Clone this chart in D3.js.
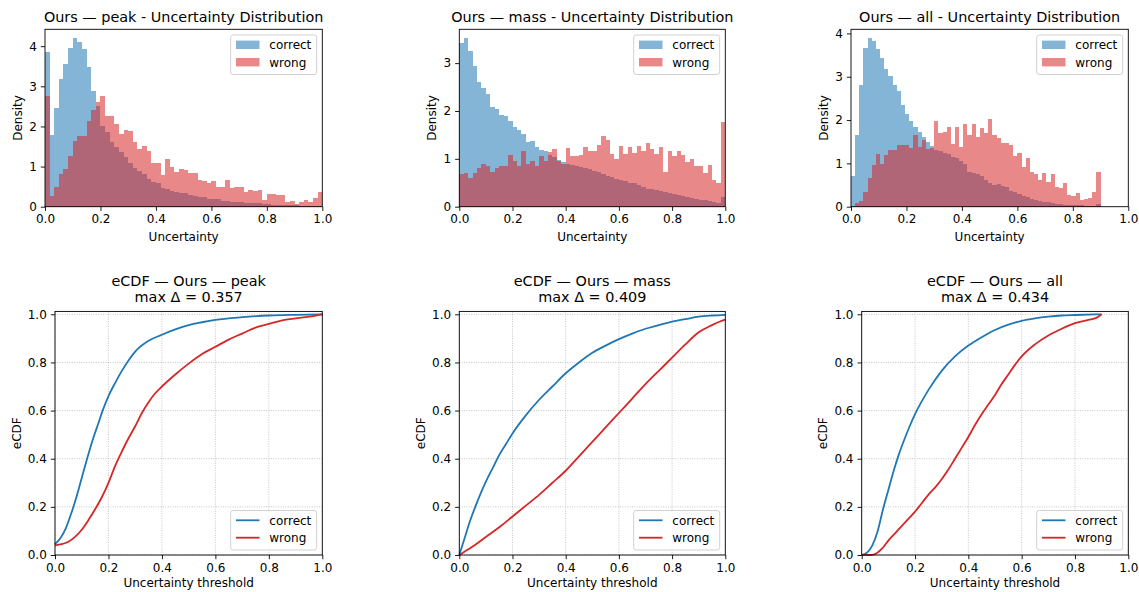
<!DOCTYPE html>
<html>
<head>
<meta charset="utf-8">
<script src="https://cdn.jsdelivr.net/npm/d3@7"></script>
<style>
  body { margin: 0; background: #fff; }
  svg { display: block; font-family: "DejaVu Sans", sans-serif; }
</style>
</head>
<body>
<svg id="fig" width="1139" height="592"></svg>
<script>
// ---- data ----
const seriesNames = ["correct", "wrong"];
const methods = ["peak", "mass", "all"];
const xTickVals = [0, 0.2, 0.4, 0.6, 0.8, 1.0];
const ecdfTickVals = [0, 0.2, 0.4, 0.6, 0.8, 1.0];
const densityTicks = [[0, 1, 2, 3, 4], [0, 1, 2, 3], [0, 1, 2, 3, 4]];
const binRanges = [[0, 1], [0, 1], [0, 0.9]];
const maxDelta = [0.357, 0.409, 0.434];

// density per bin (60 bins each)
const peakCorrect = [3.85, 1.79, 2.47, 3.17, 3.56, 3.96, 4.21, 4.11, 3.94, 3.47, 2.89, 2.52,
  2.0, 1.87, 1.6, 1.5, 1.37, 1.25, 1.1, 0.97, 0.9, 0.82, 0.68, 0.62,
  0.58, 0.47, 0.43, 0.4, 0.37, 0.35, 0.33, 0.3, 0.27, 0.25, 0.23, 0.2,
  0.19, 0.18, 0.15, 0.13, 0.12, 0.12, 0.11, 0.1, 0.09, 0.08, 0.08, 0.07,
  0.06, 0.05, 0.05, 0.05, 0.04, 0.03, 0.03, 0.02, 0.02, 0.02, 0.02, 0.02];
const peakWrong = [2.77, 0.27, 0.5, 0.81, 0.94, 1.27, 1.63, 1.75, 1.75, 2.13, 2.42, 2.62,
  2.75, 2.25, 2.25, 2.05, 1.8, 1.92, 1.88, 1.62, 1.45, 1.52, 1.38, 1.1,
  1.08, 0.78, 1.18, 1.0, 0.87, 0.95, 0.92, 0.85, 0.85, 0.66, 0.64, 0.58,
  0.64, 0.5, 0.5, 0.67, 0.47, 0.48, 0.5, 0.37, 0.42, 0.4, 0.41, 0.17,
  0.32, 0.32, 0.29, 0.28, 0.12, 0.14, 0.07, 0.12, 0.17, 0.12, 0.21, 0.37];
const massCorrect = [3.41, 3.53, 3.26, 2.95, 2.6, 2.48, 2.36, 2.09, 2.04, 1.92, 1.89, 1.79,
  1.67, 1.61, 1.51, 1.35, 1.38, 1.24, 1.19, 1.17, 1.08, 1.04, 0.98, 0.93,
  0.9, 0.87, 0.85, 0.82, 0.8, 0.78, 0.75, 0.73, 0.68, 0.65, 0.62, 0.58,
  0.55, 0.53, 0.5, 0.49, 0.46, 0.42, 0.38, 0.37, 0.35, 0.32, 0.3, 0.28,
  0.26, 0.24, 0.22, 0.2, 0.18, 0.16, 0.14, 0.13, 0.12, 0.1, 0.08, 0.21];
const massWrong = [0.68, 0.7, 0.59, 0.7, 0.8, 0.89, 0.86, 0.73, 0.81, 0.84, 0.84, 1.07,
  0.96, 0.86, 1.16, 0.89, 0.95, 0.86, 1.05, 0.95, 1.15, 1.2, 0.95, 0.9,
  1.22, 1.05, 1.06, 1.08, 1.25, 1.17, 1.17, 1.29, 1.48, 1.39, 1.1, 1.0,
  1.27, 1.1, 1.25, 1.13, 1.27, 1.16, 1.34, 1.2, 1.11, 1.25, 0.73, 1.17,
  1.05, 1.17, 1.08, 0.94, 1.0, 0.84, 0.85, 0.7, 0.87, 0.56, 0.5, 1.78];
const allCorrect = [0.72, 1.65, 2.81, 3.67, 3.9, 3.82, 3.65, 3.44, 3.19, 3.01, 2.81, 2.67,
  2.35, 2.15, 1.97, 1.85, 1.72, 1.6, 1.5, 1.4, 1.32, 1.28, 1.25, 1.22,
  1.15, 1.12, 1.05, 0.98, 0.8, 0.78, 0.75, 0.72, 0.62, 0.55, 0.5, 0.52,
  0.47, 0.45, 0.36, 0.33, 0.3, 0.25, 0.22, 0.18, 0.16, 0.14, 0.12, 0.1,
  0.09, 0.07, 0.06, 0.05, 0.04, 0.04, 0.03, 0.03, 0.02, 0.02, 0.02, 0.07];
const allWrong = [0.0, 0.08, 0.14, 0.35, 0.66, 0.97, 1.22, 0.99, 1.2, 1.3, 1.3, 1.43,
  1.42, 1.42, 1.36, 1.65, 1.38, 1.55, 1.33, 1.35, 1.98, 1.71, 1.73, 1.83,
  1.45, 1.85, 1.38, 1.92, 1.65, 1.92, 1.62, 1.81, 1.69, 2.02, 1.65, 1.58,
  1.46, 1.48, 1.42, 1.17, 1.23, 0.92, 1.12, 0.81, 0.75, 0.62, 0.77, 0.58,
  0.75, 0.46, 0.44, 0.55, 0.27, 0.25, 0.32, 0.15, 0.18, 0.2, 0.35, 0.79];

// eCDF points [threshold, eCDF]
const ecdfPeakCorrect = [[0, 0.045], [0.02, 0.07], [0.04, 0.11], [0.06, 0.17], [0.08, 0.24], [0.1, 0.32],
  [0.12, 0.4], [0.14, 0.475], [0.16, 0.54], [0.18, 0.605], [0.2, 0.66], [0.225, 0.715], [0.25, 0.765],
  [0.275, 0.808], [0.3, 0.845], [0.35, 0.89], [0.4, 0.915], [0.45, 0.937], [0.5, 0.955], [0.55, 0.967],
  [0.6, 0.977], [0.7, 0.988], [0.8, 0.995], [0.9, 0.998], [1.0, 1.0]];
const ecdfPeakWrong = [[0, 0.04], [0.025, 0.045], [0.05, 0.055], [0.075, 0.075], [0.1, 0.105], [0.125, 0.145],
  [0.15, 0.19], [0.175, 0.24], [0.2, 0.3], [0.225, 0.37], [0.25, 0.43], [0.275, 0.485], [0.3, 0.535],
  [0.325, 0.59], [0.35, 0.635], [0.375, 0.672], [0.4, 0.7], [0.45, 0.75], [0.5, 0.795], [0.55, 0.835],
  [0.6, 0.865], [0.65, 0.895], [0.7, 0.92], [0.75, 0.945], [0.8, 0.96], [0.85, 0.975], [0.9, 0.983],
  [0.95, 0.99], [1.0, 1.0]];
const ecdfMassCorrect = [[0, 0], [0.02, 0.07], [0.04, 0.14], [0.06, 0.2], [0.08, 0.255], [0.1, 0.305],
  [0.125, 0.36], [0.15, 0.415], [0.175, 0.46], [0.2, 0.505], [0.25, 0.58], [0.3, 0.645], [0.35, 0.7],
  [0.4, 0.755], [0.45, 0.8], [0.5, 0.84], [0.55, 0.87], [0.6, 0.897], [0.65, 0.92], [0.7, 0.94],
  [0.75, 0.955], [0.8, 0.97], [0.85, 0.98], [0.9, 0.99], [0.95, 0.995], [1.0, 0.998]];
const ecdfMassWrong = [[0, 0], [0.05, 0.035], [0.1, 0.075], [0.15, 0.115], [0.2, 0.16], [0.25, 0.205],
  [0.3, 0.25], [0.35, 0.3], [0.4, 0.35], [0.45, 0.41], [0.5, 0.47], [0.55, 0.53], [0.6, 0.59],
  [0.65, 0.65], [0.7, 0.71], [0.75, 0.765], [0.8, 0.82], [0.85, 0.875], [0.9, 0.925], [0.95, 0.955],
  [0.98, 0.97], [1.0, 0.978]];
const ecdfAllCorrect = [[0, 0], [0.02, 0.01], [0.04, 0.04], [0.06, 0.1], [0.08, 0.19], [0.1, 0.27],
  [0.12, 0.35], [0.14, 0.42], [0.16, 0.48], [0.18, 0.535], [0.2, 0.585], [0.25, 0.685], [0.3, 0.765],
  [0.35, 0.825], [0.4, 0.87], [0.45, 0.905], [0.5, 0.935], [0.55, 0.957], [0.6, 0.973], [0.65, 0.983],
  [0.7, 0.99], [0.75, 0.995], [0.8, 0.997], [0.9, 1.0]];
const ecdfAllWrong = [[0, 0], [0.03, 0.0], [0.05, 0.004], [0.075, 0.025], [0.1, 0.06], [0.125, 0.09],
  [0.15, 0.12], [0.175, 0.15], [0.2, 0.18], [0.225, 0.215], [0.25, 0.25], [0.275, 0.28], [0.3, 0.315],
  [0.325, 0.355], [0.35, 0.4], [0.375, 0.445], [0.4, 0.49], [0.425, 0.54], [0.45, 0.585], [0.475, 0.625],
  [0.5, 0.665], [0.525, 0.71], [0.55, 0.75], [0.575, 0.79], [0.6, 0.825], [0.65, 0.875], [0.7, 0.912],
  [0.75, 0.94], [0.8, 0.963], [0.85, 0.977], [0.88, 0.985], [0.9, 1.0]];

const histCorrect = [peakCorrect, massCorrect, allCorrect];
const histWrong = [peakWrong, massWrong, allWrong];
const ecdfCorrect = [ecdfPeakCorrect, ecdfMassCorrect, ecdfAllCorrect];
const ecdfWrong = [ecdfPeakWrong, ecdfMassWrong, ecdfAllWrong];

// ---- layout ----
const svg = d3.select("#fig");
const colors = ["#1f77b4", "#d62728"];
const FONT = "DejaVu Sans";
const histX = [[45, 322.3], [459.3, 725.3], [851, 1128.3]];
const histTop = 29.3, histBottom = 206.7;
const ecdfX = [[55, 322.3], [459.3, 725.3], [861.7, 1128.3]];
const ecdfBottom = 555, ecdfPxPerUnit = 240.7, ecdfYMax = 1.012;

function drawAxes(g, x, y, yTicks, yFmt) {
  const [x0, x1] = x.range();
  const [y0, y1] = y.range();
  const ax = g.append("g").attr("transform", `translate(0,${y0})`)
    .call(d3.axisBottom(x).tickValues(xTickVals).tickFormat(d3.format(".1f")).tickSize(4.2).tickPadding(4));
  const ay = g.append("g").attr("transform", `translate(${x0},0)`)
    .call(d3.axisLeft(y).tickValues(yTicks).tickFormat(yFmt).tickSize(4.2).tickPadding(4));
  [ax, ay].forEach(a => {
    a.select(".domain").remove();
    a.attr("font-size", 12).attr("font-family", FONT);
    a.selectAll(".tick line").attr("stroke", "#000").attr("stroke-width", 0.9);
    a.selectAll(".tick text").attr("fill", "#000");
  });
  g.append("rect")
    .attr("x", x0).attr("y", y1).attr("width", x1 - x0).attr("height", y0 - y1)
    .attr("fill", "none").attr("stroke", "#000").attr("stroke-width", 0.9);
}

function drawLegend(g, right, top, kind) {
  const w = 86, h = 39.5, x0 = right - 5.6 - w;
  const lg = g.append("g");
  lg.append("rect").attr("x", x0).attr("y", top).attr("width", w).attr("height", h)
    .attr("rx", 2.5).attr("fill", "#fff").attr("fill-opacity", 0.8)
    .attr("stroke", "#cccccc").attr("stroke-width", 0.9);
  seriesNames.forEach((name, k) => {
    const cy = top + 9.8 + k * 17.4;
    if (kind === "patch") {
      lg.append("rect").attr("x", x0 + 5.3).attr("y", cy - 4.2).attr("width", 23.5).attr("height", 8.4)
        .attr("fill", colors[k]).attr("fill-opacity", 0.55);
    } else {
      lg.append("line").attr("x1", x0 + 5.3).attr("x2", x0 + 28.8).attr("y1", cy).attr("y2", cy)
        .attr("stroke", colors[k]).attr("stroke-width", 1.8);
    }
    lg.append("text").attr("x", x0 + 38.6).attr("y", cy + 4.3)
      .attr("font-size", 12).attr("font-family", FONT).text(name);
  });
}

function yLabel(g, x, cy, label) {
  g.append("text").attr("transform", `translate(${x},${cy}) rotate(-90)`)
    .attr("text-anchor", "middle").attr("font-size", 12).attr("font-family", FONT).text(label);
}

// ---- histograms ----
methods.forEach((m, i) => {
  const [l, r] = histX[i];
  const range = binRanges[i];
  const vals = [histCorrect[i], histWrong[i]];
  const ymax = d3.max(vals.flat()) * 1.05;
  const x = d3.scaleLinear().domain([0, 1]).range([l, r]);
  const y = d3.scaleLinear().domain([0, ymax]).range([histBottom, histTop]);
  const g = svg.append("g");

  vals.forEach((v, s) => {
    const bw = (range[1] - range[0]) / v.length;
    g.append("g").selectAll("rect").data(v).join("rect")
      .attr("x", (d, k) => x(range[0] + k * bw))
      .attr("width", (d, k) => x(range[0] + (k + 1) * bw) - x(range[0] + k * bw))
      .attr("y", d => y(d))
      .attr("height", d => y(0) - y(d))
      .attr("fill", colors[s]).attr("fill-opacity", 0.55)
      .attr("shape-rendering", "crispEdges");
  });

  drawAxes(g, x, y, densityTicks[i], d3.format("d"));
  drawLegend(g, r, histTop + 5.7, "patch");

  g.append("text").attr("x", (l + r) / 2).attr("y", histTop - 7)
    .attr("text-anchor", "middle").attr("font-size", 14.4).attr("font-family", FONT)
    .text(`Ours — ${m} - Uncertainty Distribution`);
  g.append("text").attr("x", (l + r) / 2).attr("y", histBottom + 34)
    .attr("text-anchor", "middle").attr("font-size", 12).attr("font-family", FONT).text("Uncertainty");
  yLabel(g, l - 23, (histTop + histBottom) / 2, "Density");
});

// ---- eCDFs ----
methods.forEach((m, i) => {
  const [l, r] = ecdfX[i];
  const top = ecdfBottom - ecdfYMax * ecdfPxPerUnit;
  const x = d3.scaleLinear().domain([0, 1]).range([l, r]);
  const y = d3.scaleLinear().domain([0, ecdfYMax]).range([ecdfBottom, top]);
  const g = svg.append("g");

  const grid = g.append("g").attr("stroke", "#b0b0b0").attr("stroke-width", 0.8)
    .attr("stroke-dasharray", "0.9,1.5");
  grid.selectAll(".gx").data(xTickVals).join("line")
    .attr("x1", d => x(d)).attr("x2", d => x(d)).attr("y1", ecdfBottom).attr("y2", top);
  grid.selectAll(".gy").data(ecdfTickVals).join("line")
    .attr("y1", d => y(d)).attr("y2", d => y(d)).attr("x1", l).attr("x2", r);

  const line = d3.line().x(d => x(d[0])).y(d => y(d[1])).curve(d3.curveMonotoneX);
  [ecdfCorrect[i], ecdfWrong[i]].forEach((pts, s) => {
    g.append("path").datum(pts).attr("d", line)
      .attr("fill", "none").attr("stroke", colors[s]).attr("stroke-width", 1.8);
  });

  drawAxes(g, x, y, ecdfTickVals, d3.format(".1f"));
  drawLegend(g, r, ecdfBottom - 5 - 39.5, "line");

  g.append("text").attr("x", (l + r) / 2).attr("y", top - 25)
    .attr("text-anchor", "middle").attr("font-size", 14.4).attr("font-family", FONT)
    .text(`eCDF — Ours — ${m}`);
  g.append("text").attr("x", (l + r) / 2).attr("y", top - 9)
    .attr("text-anchor", "middle").attr("font-size", 14.4).attr("font-family", FONT)
    .text(`max Δ = ${maxDelta[i].toFixed(3)}`);
  g.append("text").attr("x", (l + r) / 2).attr("y", ecdfBottom + 32)
    .attr("text-anchor", "middle").attr("font-size", 12).attr("font-family", FONT)
    .text("Uncertainty threshold");
  yLabel(g, l - 34.5, (top + ecdfBottom) / 2, "eCDF");
});
</script>
</body>
</html>
